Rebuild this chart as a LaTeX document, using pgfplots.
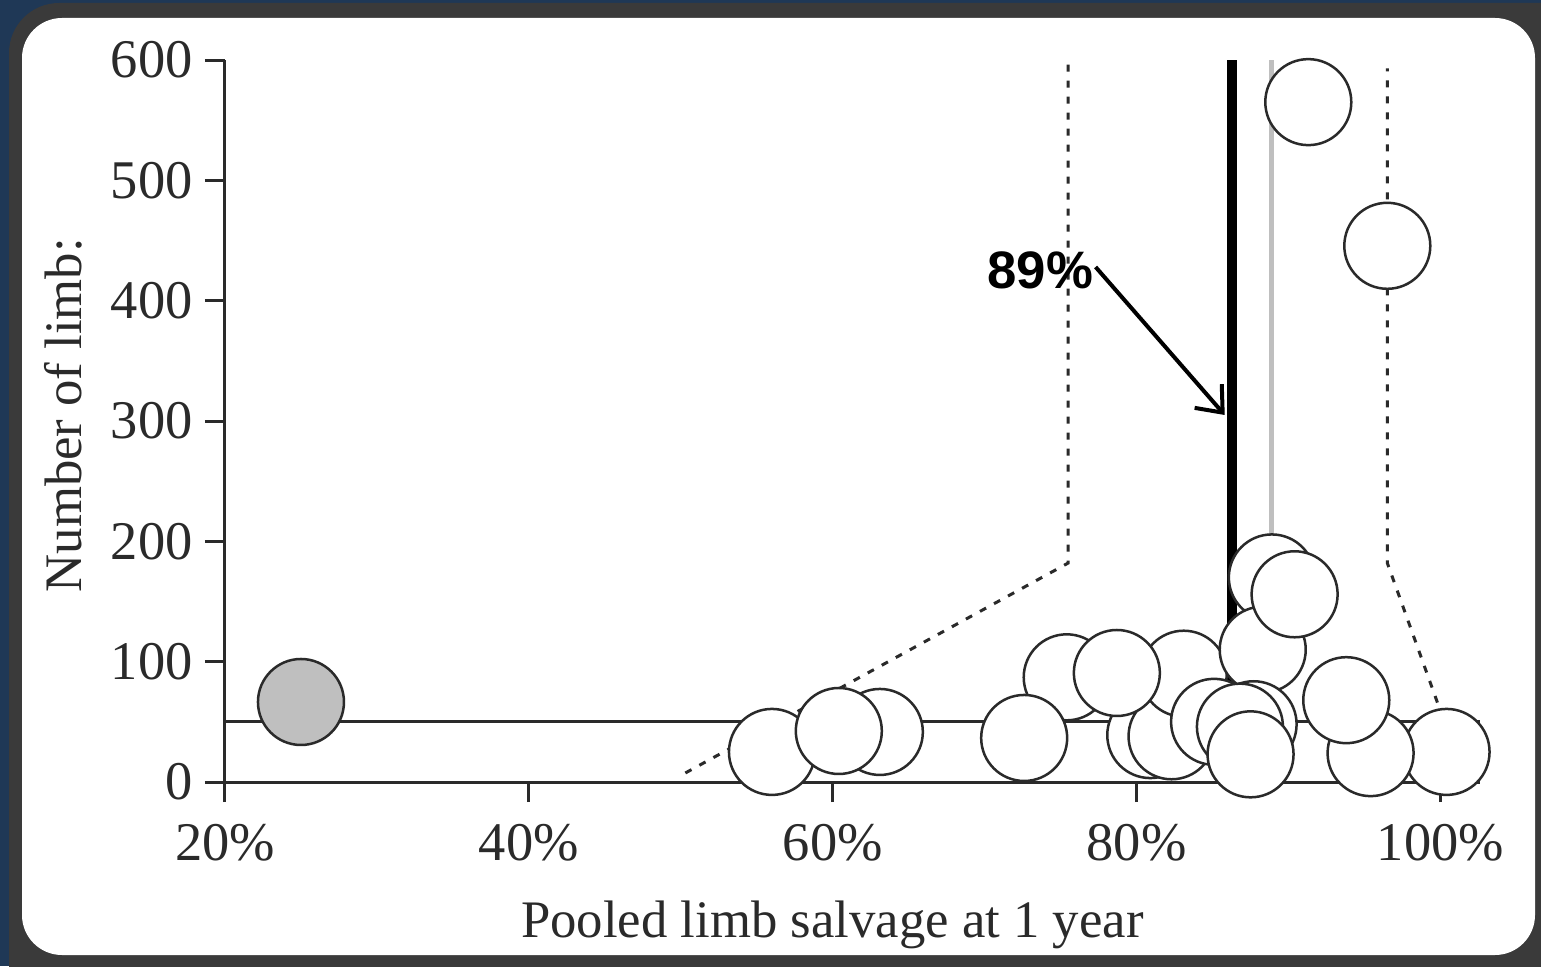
\documentclass[border=0pt]{standalone}
\usepackage{fontspec}
\setmainfont{Liberation Serif}
\newfontfamily\arialb{Liberation Sans}
\usepackage{pgfplots}
\pgfplotsset{compat=1.18}
\usetikzlibrary{arrows.meta}
\definecolor{navy}{HTML}{1F3856}
\definecolor{framec}{HTML}{3A3A3A}
\definecolor{ink}{HTML}{2A2A2A}
\begin{document}
\begin{tikzpicture}
\useasboundingbox (0,0) rectangle (154.1mm,96.6mm);
\begin{scope}
\clip (0,0) rectangle (154.1mm,96.6mm);
\fill[navy] (0,0) rectangle (154.1mm,96.6mm);
\fill[framec, rounded corners=5mm] (0.9mm,-6mm) rectangle (162mm,96.3mm);
\fill[white, rounded corners=4mm] (2.2mm,1.1mm) rectangle (153.5mm,94.8mm);
\end{scope}
\begin{axis}[
  at={(22.5mm,18.4mm)}, anchor=south west,
  scale only axis, width=125.5mm, height=72.2mm,
  xmin=20, xmax=102.6, ymin=0, ymax=600,
  axis x line=bottom, axis y line=left,
  axis line style={-, ink, line width=0.3mm},
  xtick={20,40,60,80,100}, xticklabels={20\%,40\%,60\%,80\%,100\%},
  ytick={0,100,200,300,400,500,600},
  tick align=outside, major tick length=2mm,
  tick style={ink, line width=0.3mm},
  ticklabel style={font=\fontsize{15.5}{18}\selectfont, text=ink},
  /pgf/number format/assume math mode=true,
  xticklabel style={yshift=-1mm},
  xlabel={Pooled limb salvage at 1 year},
  ylabel={Number of limb:},
  label style={font=\fontsize{15}{18}\selectfont, text=ink},
  xlabel style={at={(rel axis cs:0.484,-0.198)}, anchor=center},
  ylabel style={at={(rel axis cs:-0.129,0.508)}, anchor=center},
  clip=false,
]
% reference line at 50 limbs
\addplot[ink, line width=0.3mm] coordinates {(20,50) (102.6,50)};
% funnel limits
\addplot[ink, line width=0.3mm, dash pattern=on 0.7mm off 0.9mm] coordinates {(50.3,7.5) (75.5,182) (75.5,600)};
\addplot[ink, line width=0.3mm, dash pattern=on 0.7mm off 0.9mm] coordinates {(99.8,66) (96.5,182) (96.5,593)};
% pooled estimates
\addplot[black, line width=1mm] coordinates {(86.3,20) (86.3,600)};
\addplot[black!25, line width=0.5mm] coordinates {(88.9,100) (88.9,600)};
% outlier study
\addplot[only marks, mark=*, mark size=4.3mm, mark options={draw=ink, fill=black!25, line width=0.25mm}] coordinates {(25.0,66.5)};
% studies
\addplot[only marks, mark=*, mark size=4.3mm, mark options={draw=ink, fill=white, line width=0.25mm}] coordinates {
 (56.0,25) (63.1,41.6) (60.4,42.4) (75.4,87) (72.6,36.6) (80.9,39) (82.3,38)
 (83.1,90) (78.7,90.6) (88.9,170) (88.3,110) (90.4,156) (85.1,50) (87.7,48)
 (86.8,46) (87.5,23) (100.4,25) (95.4,24) (93.8,68) (91.3,565) (96.5,445.6)
};
\node[font=\arialb\bfseries\fontsize{15}{18}\selectfont] at (axis cs:73.65,424.8) {89\%};
\draw[-{Straight Barb[length=2.2mm,width=3.6mm]}, line width=0.4mm] (axis cs:77.3,428) -- (axis cs:85.8,305);
\end{axis}
\end{tikzpicture}
\end{document}
